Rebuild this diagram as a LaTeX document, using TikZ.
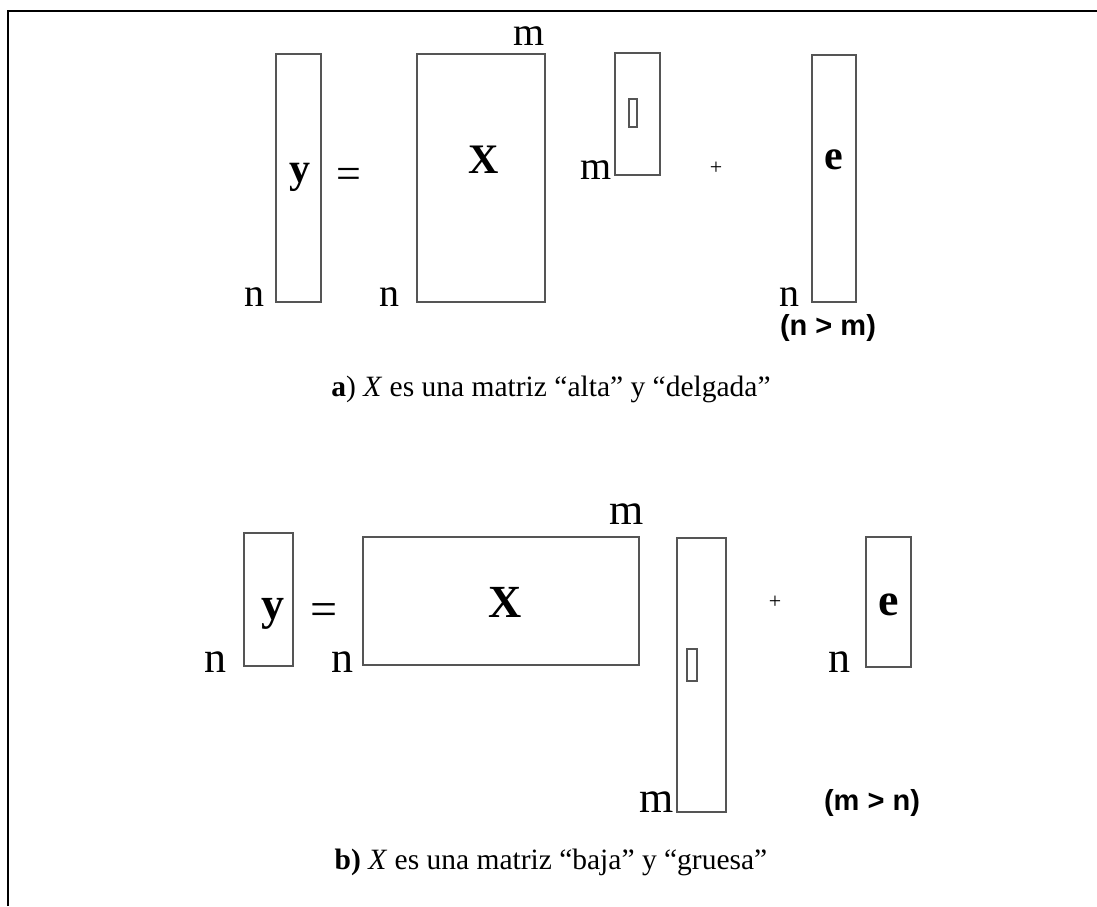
\documentclass[tikz,border=0pt]{standalone}
\usepackage{fontspec}
\setmainfont{Liberation Serif}
\newfontfamily\arialf{Liberation Sans}
\definecolor{boxgray}{HTML}{555555}
\tikzset{
  mat/.style={draw=boxgray,line width=2},
  tinybox/.style={draw=boxgray,line width=1.3},
  lblA/.style={inner sep=0,font=\fontsize{40}{40}\selectfont},
  lblB/.style={inner sep=0,font=\fontsize{44}{44}\selectfont},
  symA/.style={inner sep=0,font=\fontsize{42}{42}\selectfont\bfseries},
  symB/.style={inner sep=0,font=\fontsize{46}{46}\selectfont\bfseries},
  eqA/.style={inner sep=0,font=\fontsize{44}{44}\selectfont},
  eqB/.style={inner sep=0,font=\fontsize{48}{48}\selectfont},
  plussym/.style={inner sep=0,font=\fontsize{22}{22}\selectfont},
  condtxt/.style={inner sep=0,font=\arialf\bfseries\fontsize{29}{29}\selectfont},
  captxt/.style={inner sep=0,font=\fontsize{29.5}{29.5}\selectfont},
  framelin/.style={draw=black,line width=2.5}
}
\begin{document}
\begin{tikzpicture}[x=1pt,y=-1pt]
\useasboundingbox (0,0) rectangle (1097,906);
\coordinate (fb) at (8,906);
\coordinate (ftl) at (8,11);
\coordinate (fr) at (1097,11);
\draw[framelin] (fb) -- (ftl) -- (fr);

% ---------- part a ----------
\draw[mat] (276,54) rectangle (321,302);
\node[symA] (ya) at (300,177) {y};
\node[lblA,anchor=base] (nya) at (254,306) {n};
\node[eqA] (eqa) at (349,178) {=};
\draw[mat] (417,54) rectangle (545,302);
\node[symA] (Xa) at (484,160) {X};
\node[lblA,anchor=base] (mXa) at (529,45) {m};
\node[lblA,anchor=base] (nXa) at (389,306) {n};
\draw[mat] (615,53) rectangle (660,175);
\draw[tinybox] (629,99) rectangle (637,127);
\node[lblA,anchor=base] (mba) at (596,179) {m};
\node[plussym] (pa) at (716,168) {+};
\draw[mat] (812,55) rectangle (856,302);
\node[symA] (ea) at (834,160) {e};
\node[lblA,anchor=base] (nea) at (789,306) {n};
\node[condtxt] (ca) at (828,328) {(n > m)};
\node[captxt] (capa) at (551,389) {\textbf{a}) \textit{X} es una matriz “alta” y “delgada”};

% ---------- part b ----------
\draw[mat] (244,533) rectangle (293,666);
\node[symB] (yb) at (273,614) {y};
\node[lblB,anchor=base] (nyb) at (215,672) {n};
\node[eqB] (eqb) at (324,615) {=};
\draw[mat] (363,537) rectangle (639,665);
\node[symB] (Xb) at (505,602) {X};
\node[lblB,anchor=base] (mXb) at (627,524) {m};
\node[lblB,anchor=base] (nXb) at (342,672) {n};
\draw[mat] (677,538) rectangle (726,812);
\draw[tinybox] (687,649) rectangle (697,681);
\node[lblB,anchor=base] (mbb) at (657,812) {m};
\node[plussym] (pb) at (775,602) {+};
\draw[mat] (866,537) rectangle (911,667);
\node[symB] (eb) at (889,605) {e};
\node[lblB,anchor=base] (neb) at (839,672) {n};
\node[condtxt] (cb) at (872,803) {(m > n)};
\node[captxt] (capb) at (551,862) {\textbf{b)} \textit{X} es una matriz “baja” y “gruesa”};
\end{tikzpicture}
\end{document}
